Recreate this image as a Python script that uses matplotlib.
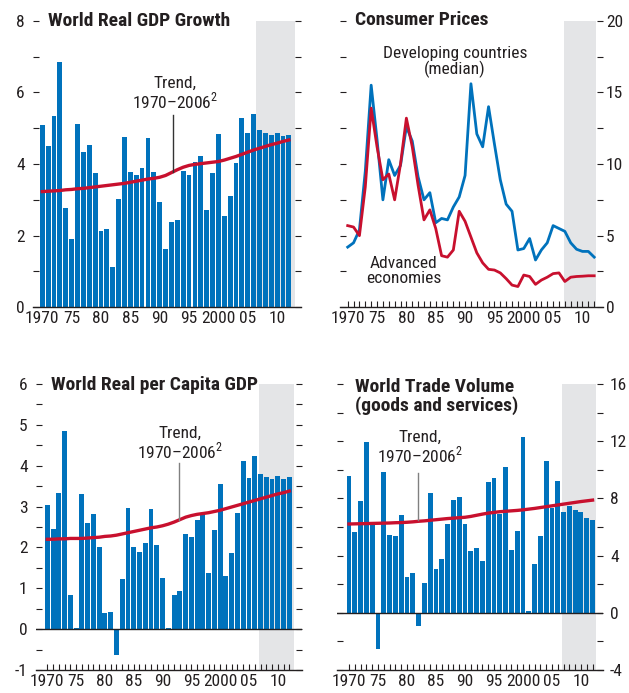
import matplotlib.pyplot as plt
from matplotlib import font_manager

# pick a condensed face if the machine has one
fonts = font_manager.fontManager.ttflist
narrow = [f for f in fonts if 'Narrow' in f.name or 'Condensed' in f.name
          or f.stretch in ('condensed', 'semi-condensed')]
FONT, STRETCH = 'Liberation Sans', 'normal'
for pref in ['Liberation Sans Narrow', 'Roboto Condensed', 'Open Sans',
             'Noto Sans', 'DejaVu Sans', 'Roboto']:
    hit = [f for f in narrow if f.name.startswith(pref)]
    if hit:
        FONT = hit[0].name
        STRETCH = hit[0].stretch if hit[0].stretch != 'normal' else 'normal'
        break

plt.rcParams['font.family'] = [FONT, 'DejaVu Sans']
plt.rcParams['font.stretch'] = STRETCH
plt.rcParams['mathtext.fontset'] = 'custom'
plt.rcParams['mathtext.rm'] = FONT
plt.rcParams['axes.unicode_minus'] = False
FS = 12.5 if FONT != 'Liberation Sans' else 11
FT = 14 if FONT != 'Liberation Sans' else 12

years = list(range(1970, 2013))
year_ticks = [1970, 1975, 1980, 1985, 1990, 1995, 2000, 2005, 2010]
year_labels = ["1970", "75", "80", "85", "90", "95", "2000", "05", "10"]

# World real GDP growth (percent)
gdp_growth = [5.09, 4.50, 5.34, 6.85, 2.77, 1.91, 5.12, 4.33, 4.53, 3.75,
              2.13, 2.19, 1.13, 3.02, 4.75, 3.78, 3.69, 3.89, 4.73, 3.78,
              2.94, 1.63, 2.38, 2.44, 3.80, 3.69, 4.06, 4.22, 2.72, 3.75,
              4.84, 2.55, 3.11, 4.03, 5.28, 4.87, 5.40, 4.95, 4.87, 4.81,
              4.87, 4.78, 4.81]
gdp_trend = [3.23, 3.24, 3.25, 3.26, 3.28, 3.29, 3.31, 3.32, 3.34, 3.36,
             3.38, 3.40, 3.42, 3.44, 3.46, 3.49, 3.52, 3.55, 3.58, 3.60,
             3.63, 3.68, 3.76, 3.84, 3.91, 3.96, 3.99, 4.01, 4.03, 4.05,
             4.07, 4.11, 4.16, 4.21, 4.27, 4.33, 4.39, 4.44, 4.49, 4.54,
             4.58, 4.63, 4.67]

# Consumer prices (percent)
cpi_developing = [4.2, 4.5, 5.4, 9.5, 15.5, 11.7, 7.5, 10.3, 9.2, 9.9,
                  12.6, 11.6, 9.1, 7.5, 8.0, 5.9, 6.2, 6.1, 7.0, 7.7,
                  9.2, 15.6, 12.1, 11.2, 14.0, 11.4, 8.9, 7.2, 6.7, 4.0,
                  4.1, 4.8, 3.3, 4.0, 4.5, 5.7, 5.5, 5.3, 4.5, 4.05,
                  3.9, 3.9, 3.5]
cpi_advanced = [5.7, 5.6, 5.0, 8.4, 13.9, 11.2, 8.9, 9.3, 7.5, 10.0,
                13.2, 11.2, 8.5, 6.1, 6.8, 5.5, 3.6, 3.5, 4.0, 6.7,
                6.0, 4.9, 3.8, 3.1, 2.65, 2.6, 2.4, 2.0, 1.55, 1.45,
                2.25, 2.15, 1.6, 1.9, 2.1, 2.35, 2.4, 1.8, 2.1, 2.15,
                2.17, 2.2, 2.2]

# World real per capita GDP growth (percent)
percap_growth = [3.04, 2.45, 3.33, 4.85, 0.84, 0.03, 3.31, 2.60, 2.82, 2.01,
                 0.40, 0.42, -0.64, 1.23, 2.97, 2.01, 1.89, 2.11, 2.94, 2.06,
                 1.26, 0.03, 0.84, 0.94, 2.33, 2.26, 2.67, 2.84, 1.38, 2.43,
                 3.55, 1.30, 1.87, 2.84, 4.12, 3.70, 4.24, 3.80, 3.72, 3.68,
                 3.75, 3.68, 3.72]
percap_trend = [2.20, 2.20, 2.21, 2.21, 2.22, 2.22, 2.22, 2.23, 2.24, 2.25,
                2.27, 2.28, 2.30, 2.33, 2.36, 2.39, 2.42, 2.45, 2.48, 2.50,
                2.53, 2.57, 2.62, 2.68, 2.74, 2.78, 2.81, 2.83, 2.85, 2.88,
                2.91, 2.95, 2.99, 3.03, 3.07, 3.11, 3.15, 3.19, 3.23, 3.27,
                3.31, 3.34, 3.38]

# World trade volume growth (percent)
trade_growth = [9.58, 5.62, 7.79, 11.95, 6.11, -2.56, 9.88, 5.46, 5.35, 6.86,
                2.53, 2.81, -0.95, 2.05, 8.40, 3.09, 3.79, 6.23, 7.91, 8.12,
                6.23, 4.35, 4.56, 3.65, 9.16, 9.44, 6.90, 10.20, 4.42, 5.74,
                12.30, 0.16, 3.44, 5.40, 10.60, 7.30, 9.23, 7.02, 7.44, 7.20,
                7.02, 6.60, 6.46]
trade_trend = [6.21, 6.22, 6.23, 6.24, 6.25, 6.26, 6.27, 6.28, 6.30, 6.31,
               6.33, 6.36, 6.40, 6.43, 6.47, 6.51, 6.55, 6.59, 6.62, 6.65,
               6.68, 6.74, 6.82, 6.90, 6.97, 7.02, 7.07, 7.10, 7.13, 7.16,
               7.20, 7.25, 7.30, 7.36, 7.42, 7.48, 7.54, 7.60, 7.66, 7.72,
               7.78, 7.83, 7.88]

BLUE = '#0072bc'
RED = '#c8102e'
SHADE = '#e4e5e7'
INK = '#231f20'

W, H = 629, 693
fig = plt.figure(figsize=(W / 100, H / 100), dpi=100)


def box(left, top, right, bottom):
    return [left / W, 1 - bottom / H, (right - left) / W, (bottom - top) / H]


def style(ax, ylim, major, minor, label_side, pad, xticks=True):
    ax.set_ylim(*ylim)
    for s in ['top', 'left', 'right']:
        ax.spines[s].set_visible(False)
    ax.spines['bottom'].set_color(INK)
    ax.spines['bottom'].set_linewidth(1.0)
    ax.set_yticks(minor)
    ax.set_yticklabels([str(v) if v in major else '' for v in minor])
    ax.tick_params(axis='y', which='both', direction='in', length=4,
                   width=0.8, color=INK, left=True, right=True,
                   labelleft=(label_side == 'left'),
                   labelright=(label_side == 'right'),
                   labelsize=FS, labelcolor=INK, pad=pad)
    ax.set_xticks(years, minor=True)
    ax.set_xticks(year_ticks)
    ax.set_xticklabels(year_labels)
    ln = 4 if xticks else 0
    ax.tick_params(axis='x', which='both', direction='in', length=ln,
                   width=0.8, color=INK, labelsize=FS, labelcolor=INK,
                   pad=3)


def trend_note(ax, tx, ty, lx, ly0, ly1, lcolor):
    ax.text(tx, ty, 'Trend,\n1970–2006$^{2}$', ha='center', va='center',
            fontsize=FS, color=INK, linespacing=1.0, zorder=5)
    ax.plot([lx, lx], [ly0, ly1], color=lcolor, lw=1.0, zorder=5)


# Panel 1: World real GDP growth
ax1 = fig.add_axes(box(33, 20.7, 301, 307.3))
ax1.set_xlim(1968.42, 2014.07)
ax1.axvspan(2006.45, 2013.05, color=SHADE, lw=0, zorder=0)
ax1.bar(years, gdp_growth, width=0.82, color=BLUE, zorder=2)
ax1.plot(years, gdp_trend, color=RED, lw=2.4, zorder=3)
style(ax1, (0, 8), [0, 2, 4, 6, 8], list(range(0, 9)), 'left', 6, xticks=False)
trend_note(ax1, 1992.6, 5.97, 1992.3, 5.37, 3.79, '#333333')
fig.text(48 / W, 1 - 20.5 / H, 'World Real GDP Growth', fontsize=FT,
         fontweight='bold', color=INK, va='center', ha='left')

# Panel 2: Consumer prices
ax2 = fig.add_axes(box(340, 20.7, 603, 307.3))
ax2.set_xlim(1968.69, 2013.5)
ax2.axvspan(2006.9, 2012.35, color=SHADE, lw=0, zorder=0)
ax2.plot(years, cpi_developing, color=BLUE, lw=2.0, zorder=3)
ax2.plot(years, cpi_advanced, color=RED, lw=2.0, zorder=4)
style(ax2, (0, 20), [0, 5, 10, 15, 20],
      [0, 2.5, 5, 7.5, 10, 12.5, 15, 17.5, 20], 'right', 2)
ax2.set_yticklabels(['0', '', '5', '', '10', '', '15', '', '20'])
ax2.text(1988.3, 17.1, 'Developing countries\n(median)', ha='center',
         va='center', fontsize=FS, color=INK, linespacing=1.0)
ax2.text(1979.5, 2.5, 'Advanced\neconomies', ha='center', va='center',
         fontsize=FS, color=INK, linespacing=1.0)
fig.text(355 / W, 1 - 20 / H, 'Consumer Prices', fontsize=FT,
         fontweight='bold', color=INK, va='center', ha='left')

# Panel 3: World real per capita GDP
ax3 = fig.add_axes(box(36, 384, 302, 670))
ax3.set_xlim(1968.04, 2014.2)
ax3.axvspan(2006.7, 2012.8, color=SHADE, lw=0, zorder=0)
ax3.bar(years, percap_growth, width=0.85, color=BLUE, zorder=2)
ax3.axhline(0, color=INK, lw=1.0, zorder=2.5)
ax3.plot(years, percap_trend, color=RED, lw=2.4, zorder=3)
minor3 = [-1, -0.5, 0, 0.5, 1, 1.5, 2, 2.5, 3, 3.5, 4, 4.5, 5, 5.5, 6]
style(ax3, (-1, 6), [-1, 0, 1, 2, 3, 4, 5, 6], minor3, 'left', 6)
trend_note(ax3, 1993.0, 4.53, 1992.9, 4.07, 2.67, '#808080')
fig.text(51 / W, 1 - 385 / H, 'World Real per Capita GDP', fontsize=FT,
         fontweight='bold', color=INK, va='center', ha='left')

# Panel 4: World trade volume
ax4 = fig.add_axes(box(337, 384, 603, 670))
ax4.set_xlim(1967.93, 2013.8)
ax4.axvspan(2006.7, 2012.6, color=SHADE, lw=0, zorder=0)
ax4.bar(years, trade_growth, width=0.85, color=BLUE, zorder=2)
ax4.axhline(0, color=INK, lw=1.0, zorder=2.5)
ax4.plot(years, trade_trend, color=RED, lw=2.4, zorder=3)
minor4 = [-4, -2, 0, 2, 4, 6, 8, 10, 12, 14, 16]
style(ax4, (-4, 16), [-4, 0, 4, 8, 12, 16], minor4, 'right', 5)
trend_note(ax4, 1982.2, 11.57, 1981.9, 9.79, 6.51, '#808080')
fig.text(355 / W, 1 - 396.5 / H, 'World Trade Volume\n(goods and services)',
         fontsize=FT, fontweight='bold', color=INK, va='center', ha='left',
         linespacing=1.05)

fig.savefig('out.png', dpi=100)
